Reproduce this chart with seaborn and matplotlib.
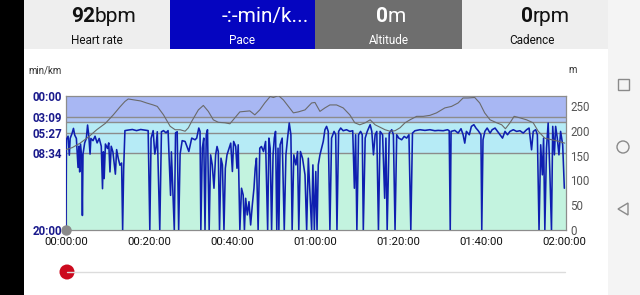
import matplotlib
matplotlib.use("Agg")
import matplotlib.pyplot as plt
from matplotlib.patches import Rectangle, Circle, Polygon
import seaborn as sns
import pandas as pd

# ---------------- data ----------------
header_labels = ["Heart rate", "Pace", "Altitude", "Cadence"]
header_numbers = ["92", "", "0", "0"]
header_units = ["bpm", "-:-min/k...", "m", "rpm"]

time_ticks_min = [0, 20, 40, 60, 80, 100, 120]
time_tick_labels = ["00:00:00", "00:20:00", "00:40:00", "01:00:00",
                    "01:20:00", "01:40:00", "02:00:00"]

pace_ticks_s = [0, 189, 327, 514, 1200]
pace_tick_labels = ["00:00", "03:09", "05:27", "08:34", "20:00"]
pace_zone_lines_s = [189, 235, 327, 514]

alt_ticks = [0, 50, 100, 150, 200, 250]

# pace (seconds per km) vs time (minutes)
pace_t_1 = [0.0, 0.1, 0.5, 0.8, 1.0, 1.5, 1.8, 2.1, 2.5, 2.9, 3.1, 3.3, 3.5, 3.8, 3.95,
            4.1, 4.5, 4.9, 5.2, 5.5, 5.8, 6.0, 6.5, 7.0, 7.5, 8.0, 8.5, 8.8, 9.0, 9.2,
            9.5, 10.0, 10.3, 10.6, 10.9, 11.3, 11.6, 11.9, 12.2, 12.6, 13.0, 13.4, 13.65,
            13.9, 14.2, 15.0, 16.0, 17.0, 18.0, 19.0, 19.8, 20.2, 20.5, 21.0, 21.4, 21.7,
            22.0, 22.6, 23.0, 23.5, 24.1, 24.6, 25.0, 25.2, 25.4, 25.8, 26.1, 26.4, 26.8,
            27.15, 27.5, 28.0]
pace_v_1 = [1200, 390, 360, 530, 380, 330, 290, 350, 380, 640, 450, 680, 430, 560, 1070,
            520, 420, 380, 260, 360, 520, 380, 400, 360, 420, 380, 450, 830, 500, 740,
            430, 470, 420, 680, 450, 500, 600, 700, 480, 560, 620, 600, 1200,
            650, 310, 305, 300, 310, 300, 305, 310, 1200, 380, 310, 520, 460,
            320, 1200, 320, 310, 330, 310, 700, 890, 500, 900, 1200, 330, 320,
            1200, 520, 400]

pace_t_2 = [28.7, 29.6, 30.3, 31.1, 31.5, 32.0, 32.3, 32.5, 32.85, 33.2, 33.5, 33.8, 34.1,
            34.5, 34.85, 35.25, 35.66, 36.06, 36.4, 36.7, 37.0, 37.35, 37.7, 38.07, 38.4,
            38.8, 39.3, 39.7, 40.1, 40.4, 40.9, 41.2, 41.5, 41.9, 42.3, 42.7, 43.0, 43.3,
            43.7, 44.1, 44.5, 44.9, 45.3, 45.6, 45.9, 46.3, 46.7, 47.1, 47.6, 48.1, 48.6,
            48.9, 49.2, 49.55, 49.9, 50.2, 50.5, 50.8, 51.1, 51.3, 51.6, 52.1, 52.6, 53.0,
            53.4, 53.8, 54.2, 54.5, 54.9, 55.4, 55.8, 56.1, 56.5, 57.0, 57.6, 58.0, 58.4]
pace_v_2 = [407, 497, 377, 392, 377, 287, 317, 1200, 467, 377, 1200, 347, 302,
            1200, 527, 617, 826, 527, 452, 497, 1200, 557, 617, 1200, 647,
            527, 467, 422, 676, 407, 452, 647, 437, 1200, 826, 886, 1200, 916,
            1065, 946, 1155, 976, 826, 647, 557, 1200, 467, 452, 497, 407, 1200,
            377, 467, 1200, 527, 377, 317, 1200, 467, 1200, 437, 377, 1200, 527,
            377, 242, 347, 1200, 527, 617, 497, 1200, 497, 557, 706, 1200, 557]

pace_t_3 = [59.2, 59.5, 59.85, 60.2, 60.5, 60.8, 61.2, 61.6, 62.0, 62.4, 62.8, 63.2, 63.6,
            64.0, 64.6, 65.0, 65.3, 65.7, 66.2, 66.8, 67.6, 68.4, 69.1, 69.5, 69.8, 70.1,
            70.5, 71.0, 71.4, 71.65, 72.1, 72.6, 73.3, 73.7, 74.1, 74.5, 74.9, 75.3, 75.7,
            76.3, 76.8, 77.1, 77.4, 77.9, 78.5, 78.9, 79.3, 79.7, 80.2, 80.9, 81.5, 82.1,
            82.65, 83.1, 83.5, 84.1, 85.3, 86.5, 87.7, 88.9]
pace_v_3 = [1200, 617, 1200, 676, 1200, 617, 527, 467, 407, 302, 272, 317, 1200,
            377, 317, 347, 1200, 317, 287, 311, 302, 317, 311, 826, 347, 1200,
            347, 317, 347, 1200, 377, 317, 257, 317, 527, 347, 317, 1200, 317,
            347, 916, 377, 1200, 332, 302, 347, 1200, 347, 377, 392, 362, 377,
            347, 1200, 332, 311, 302, 308, 302, 311]

pace_t_4 = [89.7, 90.9, 91.95, 92.35, 92.6, 92.8, 93.7, 94.5, 95.2, 95.7, 96.1, 96.5, 97.2,
            97.7, 98.3, 98.8, 99.35, 100.0, 100.2, 100.5, 100.95, 101.5, 102.2, 102.7,
            103.4, 104.0, 104.6, 105.2, 105.8, 106.4, 107.0, 107.8, 108.6, 109.4, 110.2,
            111.0, 111.6, 112.2, 112.6, 113.2, 113.6, 114.0, 114.4, 114.8, 115.1, 115.4,
            115.8, 116.2, 116.6, 117.0, 117.3, 117.7, 118.0, 118.4, 118.8, 119.2, 119.7,
            120.1]
pace_v_4 = [308, 311, 302, 311, 1200, 317, 308, 332, 293, 347, 422, 317, 347,
            272, 257, 287, 311, 347, 1200, 392, 317, 287, 332, 302,
            287, 317, 347, 377, 317, 347, 317, 302, 317, 311, 332,
            302, 287, 482, 317, 302, 347, 1200, 437, 706, 377, 1200,
            467, 242, 676, 1200, 272, 527, 272, 377, 527, 317, 437,
            826]

# altitude (m) vs time (minutes)
alt_t = [0.0, 1.5, 3.4, 5.5, 7.4, 9.5, 11.4, 13.0, 14.2, 15.0, 16.5, 18.0, 19.4, 21.0,
         22.0, 23.5, 25.1, 26.3, 27.5, 28.7, 29.5, 30.3, 31.9, 33.1, 34.3, 35.5, 36.7,
         38.3, 39.5, 40.7, 41.9, 43.1, 44.3, 45.5, 46.7, 47.9, 49.2, 50.0, 51.2, 52.4,
         53.6, 54.8, 56.0, 57.6, 59.2, 60.0, 61.2, 62.4, 63.6, 65.2, 66.8, 68.4, 69.6,
         70.8, 72.1, 73.3, 74.5, 75.7, 76.9, 78.1, 79.3, 80.5, 81.7, 82.9, 84.5, 86.1,
         87.7, 89.3, 91.3, 92.9, 94.5, 95.7, 96.9, 98.5, 99.7, 100.9, 102.2, 103.8,
         105.0, 105.9, 107.0, 108.0, 109.4, 111.0, 112.6, 113.8, 115.4, 117.0, 118.6,
         120.2]
alt_v = [162, 166, 175, 188, 202, 215, 232, 248, 259, 264, 262, 260, 256, 252,
         249, 232, 209, 202, 202, 199, 206, 219, 242, 251, 239, 222, 217,
         216, 214, 226, 238, 239, 240, 232, 242, 256, 269, 267, 271, 262,
         249, 236, 238, 242, 256, 257, 239, 246, 252, 252, 246, 232, 216,
         212, 216, 222, 212, 207, 202, 199, 200, 206, 216, 222, 229, 229,
         231, 236, 246, 249, 256, 266, 266, 267, 256, 236, 222, 216,
         212, 204, 216, 229, 226, 222, 216, 199, 185, 182, 179,
         175]

pace_t = pace_t_1 + pace_t_2 + pace_t_3 + pace_t_4
pace_v = pace_v_1 + pace_v_2 + pace_v_3 + pace_v_4
assert len(pace_t) == len(pace_v), (len(pace_t), len(pace_v))
assert len(alt_t) == len(alt_v), (len(alt_t), len(alt_v))

pace_df = pd.DataFrame({"time": pace_t, "pace": pace_v})
alt_df = pd.DataFrame({"time": alt_t, "alt": alt_v})

# ---------------- style ----------------
sns.set_style("white")
plt.rcParams["font.family"] = ["Roboto", "DejaVu Sans"]

W, H = 640, 295
fig = plt.figure(figsize=(W / 100, H / 100), dpi=100, facecolor="white")

# background / frame layer in pixel coordinates
bg = fig.add_axes([0, 0, 1, 1])
bg.set_xlim(0, W)
bg.set_ylim(H, 0)
bg.axis("off")

bg.add_patch(Rectangle((0, 0), 24, H, color="black", lw=0))
bg.add_patch(Rectangle((608, 0), 32, H, color="#f4f4f4", lw=0))
tiles = [(24, 146, "#eeeeee", "#111111"), (170, 145, "#0505c0", "white"),
         (315, 147, "#6e6e6e", "white"), (462, 146, "#eeeeee", "#111111")]
splits = [95, 222, 388, 533]
for (x0, w, fc, tc), lab, num, unit, sp in zip(tiles, header_labels, header_numbers,
                                               header_units, splits):
    bg.add_patch(Rectangle((x0, 0), w, 49, color=fc, lw=0))
    if num:
        bg.text(sp, 22, num, ha="right", va="baseline", fontsize=15,
                fontweight="bold", color=tc)
    bg.text(sp, 22, unit, ha="left", va="baseline", fontsize=15, color=tc)
    cx = x0 + w / 2 + (0 if lab != "Cadence" else -3)
    bg.text(cx, 44, lab, ha="center", va="baseline", fontsize=8.5, color=tc)

# unit labels
bg.text(28, 70, "min/km", ha="left", va="center", fontsize=7, color="#333333")
bg.text(573, 70, "m", ha="center", va="center", fontsize=7, color="#333333")

# navigation icons
bg.add_patch(Rectangle((617.5, 79), 11, 11, fill=False, ec="#8a8a8a", lw=1))
bg.add_patch(Circle((623, 147), 6, fill=False, ec="#8a8a8a", lw=1))
bg.add_patch(Polygon([(618, 209), (628, 203), (628, 215)], closed=True,
                     fill=False, ec="#8a8a8a", lw=1))

# slider
bg.plot([67, 565], [272, 272], color="#dcdcdc", lw=1)
bg.add_patch(Circle((67, 272), 7.5, color="#cc0a1e", lw=0))

# ---------------- chart ----------------
ax = fig.add_axes([66 / W, 1 - 230 / H, 500 / W, 134 / H])
band_edges = [0, 189, 235, 514, 1200]
band_colors = ["#a8b7f3", "#aec3f3", "#b6ebf6", "#c3f3df"]
for lo, hi, c in zip(band_edges[:-1], band_edges[1:], band_colors):
    ax.axhspan(lo, hi, color=c, lw=0, zorder=0)
for v in pace_zone_lines_s:
    ax.axhline(v, color="#8c8c8c", lw=1, zorder=1)

sns.lineplot(data=pace_df, x="time", y="pace", ax=ax, color="#0f1fb0", lw=1.15,
             estimator=None, sort=False, zorder=3)
ax.set_ylim(1200, 0)
ax.set_xlim(0, 120.5)
ax.set_yticks(pace_ticks_s)
ax.set_yticklabels(pace_tick_labels, color="#1a1a8c", fontsize=8.3, fontweight="bold")
ax.set_xticks(time_ticks_min)
ax.set_xticklabels(time_tick_labels, color="#111111", fontsize=8.2)
ax.tick_params(axis="both", length=0)
ax.tick_params(axis="y", pad=3)
ax.tick_params(axis="x", pad=5)
ax.set_xlabel("")
ax.set_ylabel("")
for s in ax.spines.values():
    s.set_color("#8c8c8c")
    s.set_linewidth(0.9)

ax2 = ax.twinx()
sns.lineplot(data=alt_df, x="time", y="alt", ax=ax2, color="#6a6a6a", lw=0.8,
             estimator=None, sort=False)
ax2.set_ylim(0, 270)
ax2.set_yticks(alt_ticks)
ax2.set_yticklabels([str(v) for v in alt_ticks], color="#555555", fontsize=8.3)
ax2.tick_params(axis="y", length=0, pad=3)
ax2.set_ylabel("")
for s in ax2.spines.values():
    s.set_visible(False)

# start marker
ax.plot([pace_t[0]], [1200], marker="o", ms=6.5, color="#8a8a8a", clip_on=False,
        zorder=5)

fig.savefig("out.png", dpi=100, facecolor="white")
